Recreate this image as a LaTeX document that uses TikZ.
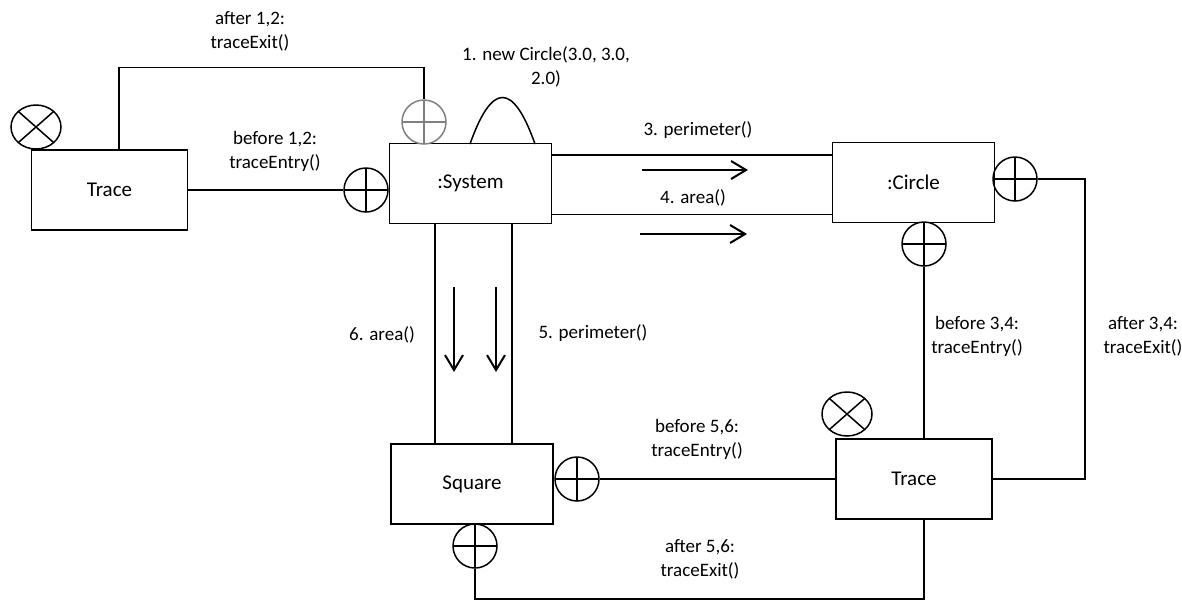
\documentclass[tikz,border=0pt]{standalone}
\usepackage{fontspec}
\setmainfont{Carlito}
\usepackage{tikz}
\usetikzlibrary{arrows.meta, shapes.geometric}

\newcommand{\boxfont}{\fontsize{10.5}{12.6}\selectfont}
\newcommand{\lblfont}{\fontsize{9.5}{12}\selectfont}

\tikzset{
  obj/.style={draw, rectangle, minimum width=81pt, minimum height=40pt, inner sep=0pt, font=\boxfont},
  lbl/.style={align=center, inner sep=0pt, font=\lblfont},
  pluscirc/.style={circle, draw=#1, minimum size=22pt, inner sep=0pt,
    path picture={\draw[#1] (path picture bounding box.north) -- (path picture bounding box.south)
      (path picture bounding box.west) -- (path picture bounding box.east);}},
  pluscirc/.default=black,
  crosscirc/.style={ellipse, draw, minimum width=25pt, minimum height=22pt, inner sep=0pt,
    path picture={\draw (path picture bounding box.south west) -- (path picture bounding box.north east)
      (path picture bounding box.north west) -- (path picture bounding box.south east);}},
  msg/.style={line width=1pt, -{Straight Barb[length=7.5pt, width=9pt]}}
}

\begin{document}
\begin{tikzpicture}[x=0.5pt, y=-0.5pt, line width=0.75pt]
  \useasboundingbox (0,0) rectangle (1182,600);

  % objects
  \node[obj, minimum width=78pt] (traceA) at (109.5,190) {Trace};
  \node[obj] (sys) at (470.5,183.5) {:System};
  \node[obj] (circ) at (913.5,182.5) {:Circle};
  \node[obj] (sq) at (472,484) {Square};
  \node[obj, minimum width=78pt] (traceB) at (914,479) {Trace};

  % advice circles
  \node[crosscirc] (crossA) at (36,127) {};
  \node[crosscirc] (crossB) at (847,414) {};
  \node[pluscirc=gray] (plusA) at (424,122) {};
  \node[pluscirc] (plusB) at (366,190) {};
  \node[pluscirc] (plusC) at (1015,179) {};
  \node[pluscirc] (plusD) at (924,244) {};
  \node[pluscirc] (plusE) at (577,479) {};
  \node[pluscirc] (plusF) at (475,546) {};

  % links
  \draw ([xshift=4.75pt]traceA.north) -- ++(0,-82) -| (plusA.north);
  \draw (traceA.east) -- (plusB.west);
  \draw ([yshift=-6pt]sys.north east) -- ([yshift=-6pt]sys.north east -| circ.west);
  \draw ([yshift=5pt]sys.south east) -- ([yshift=5pt]sys.south east -| circ.west);
  \draw ([xshift=-17.75pt]sys.south) -- ([xshift=-17.75pt]sys.south |- sq.north);
  \draw ([xshift=20.75pt]sys.south) -- ([xshift=20.75pt]sys.south |- sq.north);
  \draw (plusC.east) -- ++(47,0) |- (traceB.east);
  \draw (plusD.south) -- (plusD.south |- traceB.north);
  \draw (plusE.east) -- (traceB.west);
  \draw (plusF.south) -- ++(0,30) -| ([xshift=5pt]traceB.south);

  % creation bump
  \draw (470,144) .. controls (492,82) and (513,82) .. (535,144);

  % messages
  \draw[msg] (642,170) -- (748,170);
  \draw[msg] (640,234) -- (747,234);
  \draw[msg] (454,287) -- (454,372);
  \draw[msg] (496,287) -- (496,372);

  % labels
  \node[lbl] (lblExitA) at (250,31) {after 1,2:\\traceExit()};
  \node[lbl] (lblEntryA) at (275,151) {before 1,2:\\traceEntry()};
  \node[lbl] (lblNew) at (546,67) {1. new Circle(3.0, 3.0,\\2.0)};
  \node[lbl] (lblPerim3) at (698,130) {3. perimeter()};
  \node[lbl] (lblArea4) at (693,198) {4. area()};
  \node[lbl] (lblArea6) at (382,335) {6. area()};
  \node[lbl] (lblPerim5) at (593,333) {5. perimeter()};
  \node[lbl] (lblEntryB) at (977,336) {before 3,4:\\traceEntry()};
  \node[lbl] (lblExitB) at (1143,336) {after 3,4:\\traceExit()};
  \node[lbl] (lblEntryC) at (697,439) {before 5,6:\\traceEntry()};
  \node[lbl] (lblExitC) at (700,559) {after 5,6:\\traceExit()};

\end{tikzpicture}
\end{document}
